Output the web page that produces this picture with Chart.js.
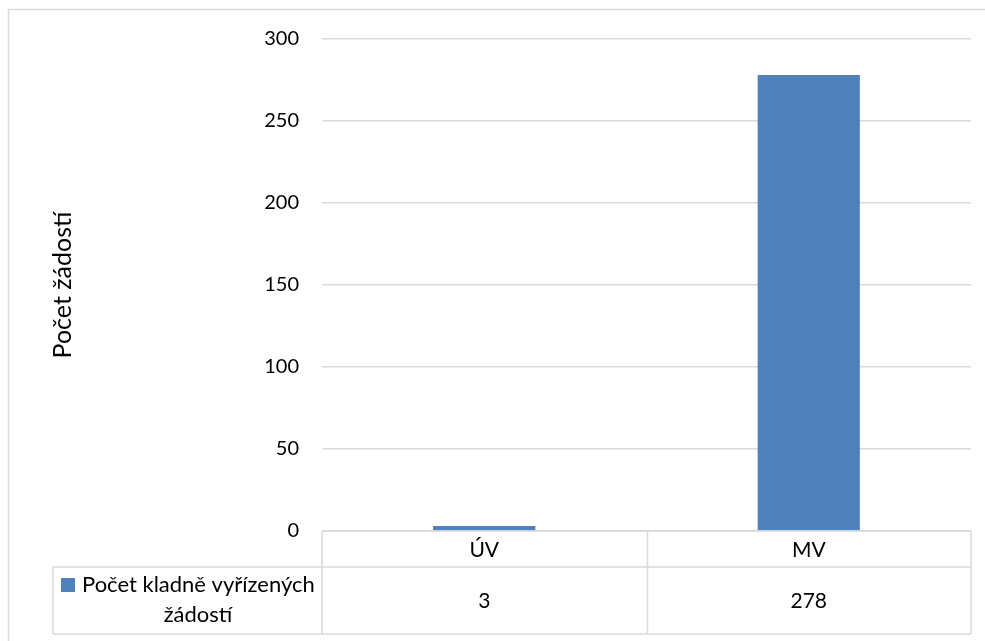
<!DOCTYPE html>
<html>
<head>
<meta charset="utf-8">
<script src="https://cdn.jsdelivr.net/npm/chart.js@4"></script>
<style>
html,body{margin:0;padding:0;background:#fff;}
#wrap{position:relative;width:985px;height:641px;}
</style>
</head>
<body>
<div id="wrap"><canvas id="c" width="985" height="641"></canvas></div>
<script>
const categories = ['ÚV', 'MV'];
const seriesName = 'Počet kladně vyřízených žádostí';
const seriesLines = ['Počet kladně vyřízených', 'žádostí'];
const values = [3, 278];
const yTicks = [0, 50, 100, 150, 200, 250, 300];
const yTitle = 'Počet žádostí';

const FONT = 'Lato, "Liberation Sans", sans-serif';
const BAR = '#4f81bd';
const GRID = '#d9d9d9';

const tablePlugin = {
  id: 'dataTable',
  afterDraw(chart) {
    const ctx = chart.ctx;
    const ca = chart.chartArea;
    const xs = chart.scales.x;
    const left = ca.left, right = ca.right;
    const top = ca.bottom;
    const row1 = top + 36;
    const row2 = row1 + 67;
    const legLeft = 53;
    ctx.save();
    ctx.strokeStyle = GRID;
    ctx.lineWidth = 1.5;
    ctx.strokeRect(8.5, 9.5, 990, 640);
    ctx.beginPath();
    ctx.moveTo(left, top); ctx.lineTo(right, top);
    ctx.moveTo(legLeft, row1); ctx.lineTo(right, row1);
    ctx.moveTo(legLeft, row2); ctx.lineTo(right, row2);
    ctx.moveTo(legLeft, row1); ctx.lineTo(legLeft, row2);
    ctx.moveTo(left, top); ctx.lineTo(left, row2);
    ctx.moveTo(right, top); ctx.lineTo(right, row2);
    const n = categories.length;
    const w = (right - left) / n;
    for (let i = 1; i < n; i++) {
      const x = Math.round(left + w * i) + 0.5;
      ctx.moveTo(x, top); ctx.lineTo(x, row2);
    }
    ctx.stroke();
    ctx.fillStyle = '#000';
    ctx.textBaseline = 'middle';
    ctx.textAlign = 'center';
    ctx.font = '21px ' + FONT;
    categories.forEach((c, i) => {
      const x = xs.getPixelForValue(i);
      ctx.fillText(c, x, (top + row1) / 2 + 1);
      ctx.fillText(String(values[i]), x, (row1 + row2) / 2 + 1);
    });
    ctx.fillStyle = BAR;
    ctx.fillRect(61, 578, 14, 14);
    ctx.fillStyle = '#000';
    ctx.font = '22px ' + FONT;
    ctx.textAlign = 'left';
    ctx.fillText(seriesLines[0], 82, 585);
    ctx.textAlign = 'center';
    ctx.fillText(seriesLines[1], 198, 615);
    ctx.restore();
  }
};

new Chart(document.getElementById('c'), {
  type: 'bar',
  data: {
    labels: categories,
    datasets: [{
      label: seriesName,
      data: values,
      backgroundColor: BAR,
      borderWidth: 0,
      categoryPercentage: 1,
      barPercentage: 0.315
    }]
  },
  options: {
    responsive: false,
    animation: false,
    devicePixelRatio: 1,
    layout: { padding: { left: 8, top: 39, right: 14, bottom: 110 } },
    plugins: { legend: { display: false }, tooltip: { enabled: false } },
    scales: {
      x: { display: false },
      y: {
        min: 0, max: 300,
        afterBuildTicks(scale) { scale.ticks = yTicks.map(v => ({ value: v })); },
        afterFit(scale) { scale.width = 314; },
        border: { display: false },
        grid: { color: GRID, lineWidth: 1.5, drawTicks: false },
        ticks: { padding: 23, color: '#000', font: { family: FONT, size: 20 } },
        title: {
          display: true, text: yTitle, color: '#000',
          font: { family: FONT, size: 25 }, padding: { top: 40, bottom: 0 }
        }
      }
    }
  },
  plugins: [tablePlugin]
});
</script>
</body>
</html>
